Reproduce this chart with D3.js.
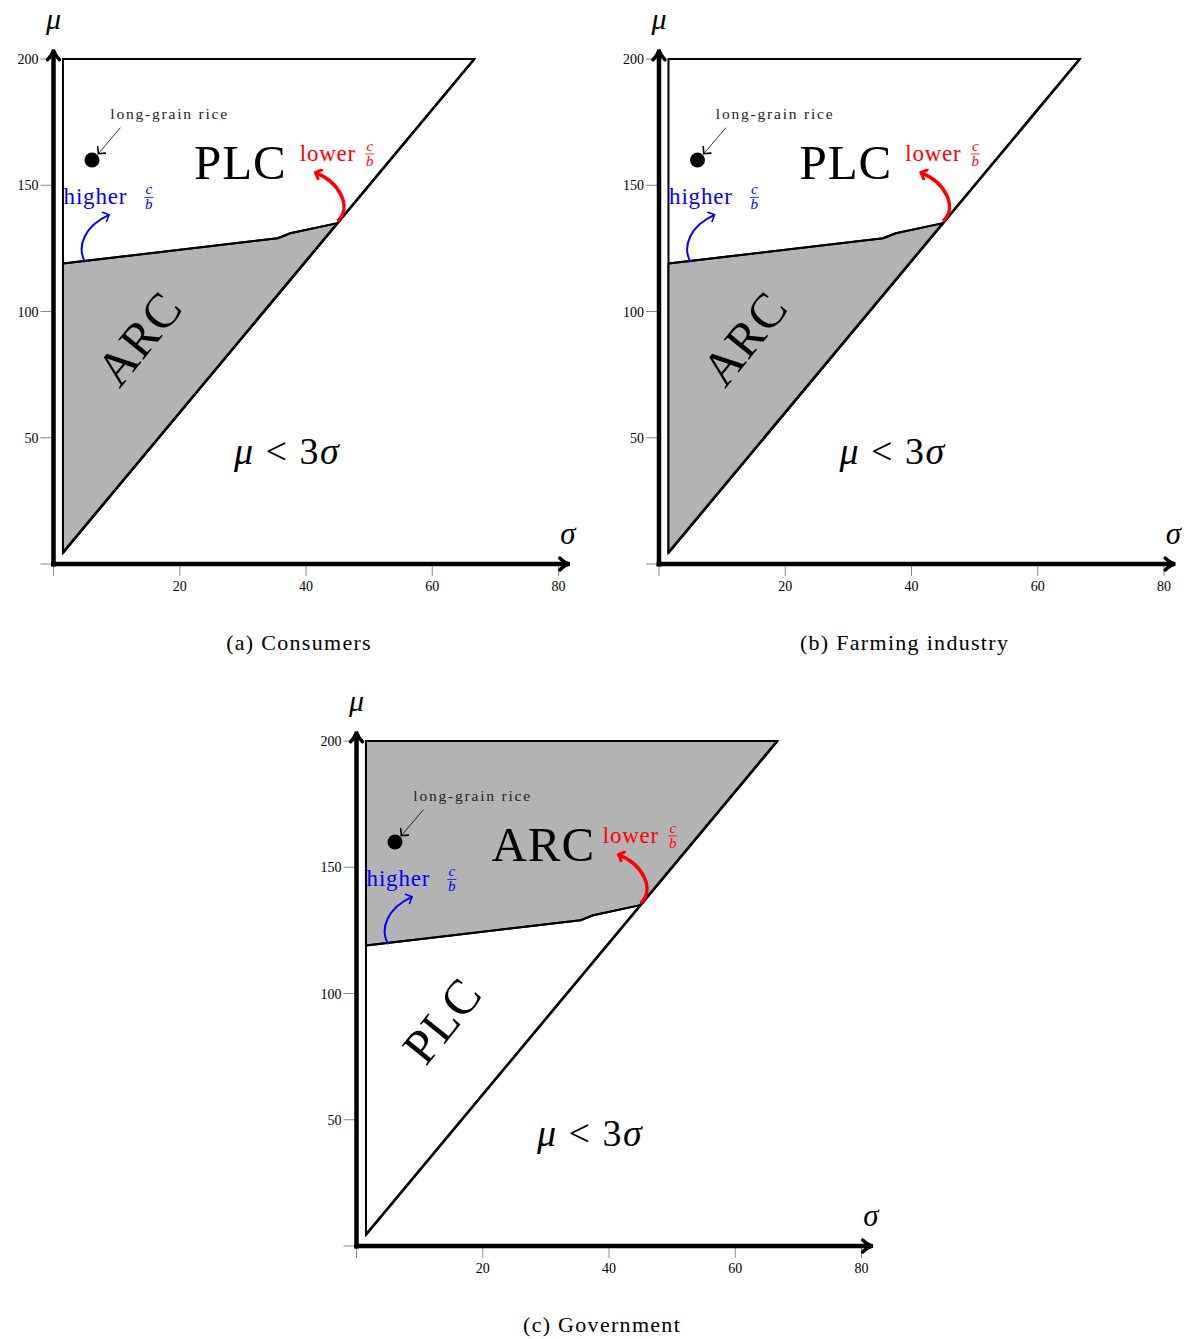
<!DOCTYPE html>
<html>
<head>
<meta charset="UTF-8">
<style>
  body { margin: 0; background: #fff; }
  svg text { font-family: "Liberation Serif", "DejaVu Serif", serif; }
</style>
</head>
<body>
<svg id="fig" width="1185" height="1339"></svg>
<script src="https://cdn.jsdelivr.net/npm/d3@7"></script>
<script>
// data (σ, μ)
const xTicks = [20, 40, 60, 80];
const yTicks = [50, 100, 150, 200];
const sigmaMin = 1.5;
const muMax = 200;
const boundary = [[1.5, 119], [15, 123], [35.5, 129], [37.5, 131], [45, 135]];
const ricePoint = [6.1, 160];
const panels = [
  { id: "a", caption: "(a) Consumers", upper: "PLC", lower: "ARC" },
  { id: "b", caption: "(b) Farming industry", upper: "PLC", lower: "ARC" },
  { id: "c", caption: "(c) Government", upper: "ARC", lower: "PLC" }
];
const panelOrigin = { a: [53.5, 564], b: [659, 564], c: [356.5, 1246] };

const svg = d3.select("#fig");
const defs = svg.append("defs");
[["arrRed", "#ff0000"], ["arrBlue", "#0000ff"], ["arrBlack", "#000"]].forEach(([id, c]) => {
  defs.append("marker").attr("id", id).attr("viewBox", "-6 -6 8 12").attr("markerWidth", 8).attr("markerHeight", 12)
    .attr("refX", 0).attr("refY", 0).attr("orient", "auto").attr("markerUnits", "userSpaceOnUse")
    .append("path").attr("d", "M-5,-5 Q-1,-1 0,0 Q-1,1 -5,5").attr("fill", "none").attr("stroke", c)
    .attr("stroke-width", id === "arrRed" ? 3 : 1.6).attr("stroke-linecap", "round");
});

function fraction(g, x, y, color) {
  const f = g.append("g").attr("fill", color).style("font-style", "italic").style("font-size", "15px");
  f.append("text").attr("x", x).attr("y", y - 7).attr("text-anchor", "middle").text("c");
  f.append("line").attr("x1", x - 4.5).attr("x2", x + 4.5).attr("y1", y - 4).attr("y2", y - 4).attr("stroke", color).attr("stroke-width", 0.8);
  f.append("text").attr("x", x).attr("y", y + 8).attr("text-anchor", "middle").text("b");
}

function drawPanel(p) {
  const [x0, y0] = panelOrigin[p.id];
  const x = d3.scaleLinear().domain([0, 80]).range([x0, x0 + 505]);
  const y = d3.scaleLinear().domain([0, 200]).range([y0, y0 - 505]);
  const g = svg.append("g");
  const line = d3.line().x(d => x(d[0])).y(d => y(d[1]));

  const diagTop = muMax / 3;
  const full = [[sigmaMin, 3 * sigmaMin], [sigmaMin, muMax], [diagTop, muMax]];
  // lower region: left edge, boundary curve, diagonal
  const lowerPoly = [[sigmaMin, 3 * sigmaMin]].concat(boundary);
  const upperPoly = boundary.slice().reverse().concat([[sigmaMin, muMax], [diagTop, muMax]]);

  g.append("path").attr("d", line(full) + "Z").attr("fill", "#fff").attr("stroke", "#000").attr("stroke-width", 2);
  g.append("path").attr("d", line(p.id === "c" ? upperPoly : lowerPoly) + "Z")
    .attr("fill", "#b3b3b3").attr("stroke", "#000").attr("stroke-width", 2).attr("stroke-linejoin", "round");
  g.append("path").attr("d", line(boundary)).attr("fill", "none").attr("stroke", "#000").attr("stroke-width", 2);
  g.append("path").attr("d", line([[sigmaMin, 3 * sigmaMin], [diagTop, muMax]])).attr("fill", "none").attr("stroke", "#000").attr("stroke-width", 2.6);

  // ticks
  const tickG = g.append("g").attr("stroke", "#888").attr("stroke-width", 1);
  [0].concat(xTicks).forEach(t => tickG.append("line").attr("x1", x(t)).attr("x2", x(t)).attr("y1", y0 + 2).attr("y2", y0 + 12));
  [0].concat(yTicks).forEach(t => tickG.append("line").attr("x1", x0 - 13).attr("x2", x0 - 2).attr("y1", y(t)).attr("y2", y(t)));
  xTicks.forEach(t => g.append("text").attr("x", x(t)).attr("y", y0 + 27).attr("text-anchor", "middle").style("font-size", "14px").text(t));
  yTicks.forEach(t => g.append("text").attr("x", x0 - 15).attr("y", y(t) + 5).attr("text-anchor", "end").style("font-size", "14px").text(t));

  // axes
  const yTop = y(202.5), xEnd = x(81.3);
  g.append("line").attr("x1", x0).attr("x2", x0).attr("y1", y0 + 2.5).attr("y2", yTop).attr("stroke", "#000").attr("stroke-width", 4.5);
  g.append("line").attr("x1", x0 - 2.5).attr("x2", xEnd).attr("y1", y0).attr("y2", y0).attr("stroke", "#000").attr("stroke-width", 4.5);
  g.append("path").attr("d", `M${x0 - 6},${yTop + 7} Q${x0 - 1},${yTop + 2} ${x0},${yTop - 3} Q${x0 + 1},${yTop + 2} ${x0 + 6},${yTop + 7}`)
    .attr("fill", "none").attr("stroke", "#000").attr("stroke-width", 3.5).attr("stroke-linecap", "round");
  g.append("path").attr("d", `M${xEnd - 7},${y0 - 6} Q${xEnd - 2},${y0 - 1} ${xEnd + 3},${y0} Q${xEnd - 2},${y0 + 1} ${xEnd - 7},${y0 + 6}`)
    .attr("fill", "none").attr("stroke", "#000").attr("stroke-width", 3.5).attr("stroke-linecap", "round");
  g.append("text").attr("x", x0).attr("y", y0 - 535).attr("text-anchor", "middle").style("font-style", "italic").style("font-size", "30px").text("μ");
  g.append("text").attr("x", x(81.5)).attr("y", y0 - 20).attr("text-anchor", "middle").style("font-style", "italic").style("font-size", "31px").text("σ");

  // long-grain rice
  g.append("circle").attr("cx", x(ricePoint[0])).attr("cy", y(ricePoint[1])).attr("r", 7.5).attr("fill", "#000");
  g.append("line").attr("x1", x(10.6)).attr("y1", y(172.8)).attr("x2", x(7.1)).attr("y2", y(162.5))
    .attr("stroke", "#000").attr("stroke-width", 0.8).attr("marker-end", "url(#arrBlack)");
  g.append("text").attr("x", x(9)).attr("y", y(176.2)).style("font-size", "15.5px").style("letter-spacing", "1.8px").attr("fill", "#222").text("long-grain rice");

  // region labels
  g.append("text").attr("x", x(29.6)).attr("y", y(152.5)).attr("text-anchor", "middle").style("font-size", "49px").style("letter-spacing", "1px").text(p.upper);
  g.append("text").attr("text-anchor", "middle").style("font-size", "49px").style("letter-spacing", "1px")
    .attr("transform", `translate(${x(13.4) + 14},${y(89.5) + 11}) rotate(-51)`).text(p.lower);
  g.append("text").attr("x", x(37)).attr("y", y(44.3) + 12).attr("text-anchor", "middle").style("font-size", "38px").style("letter-spacing", "1.5px")
    .html('<tspan font-style="italic">μ</tspan> &lt; 3<tspan font-style="italic">σ</tspan>');

  // c/b annotations
  g.append("path").attr("d", `M${x(45)},${y(135) - 2} C${x(47.3)},${y(141)} ${x(45.5)},${y(151)} ${x(41.5)},${y(155)}`)
    .attr("fill", "none").attr("stroke", "#ff0000").attr("stroke-width", 3.5).attr("marker-end", "url(#arrRed)");
  g.append("text").attr("x", x(39)).attr("y", y(159.6)).attr("fill", "#ff0000").style("font-size", "23px").style("letter-spacing", "0.8px").text("lower");
  fraction(g, x(50.1), y(159.6) - 3, "#ff0000");
  g.append("path").attr("d", `M${x(5.0)},${y(119.5)} C${x(3.6)},${y(126)} ${x(5)},${y(134)} ${x(8.8)},${y(138.3)}`)
    .attr("fill", "none").attr("stroke", "#0000ff").attr("stroke-width", 2).attr("marker-end", "url(#arrBlue)");
  g.append("text").attr("x", x(1.6)).attr("y", y(142.4)).attr("fill", "#0000ff").style("font-size", "23px").style("letter-spacing", "0.8px").text("higher");
  fraction(g, x(15.1), y(142.4) - 3, "#0000ff");

  g.append("text").attr("x", x(38.9)).attr("y", y0 + 86).attr("text-anchor", "middle").style("font-size", "22px").style("letter-spacing", "1.3px").text(p.caption);
}

panels.forEach(drawPanel);
</script>
</body>
</html>
